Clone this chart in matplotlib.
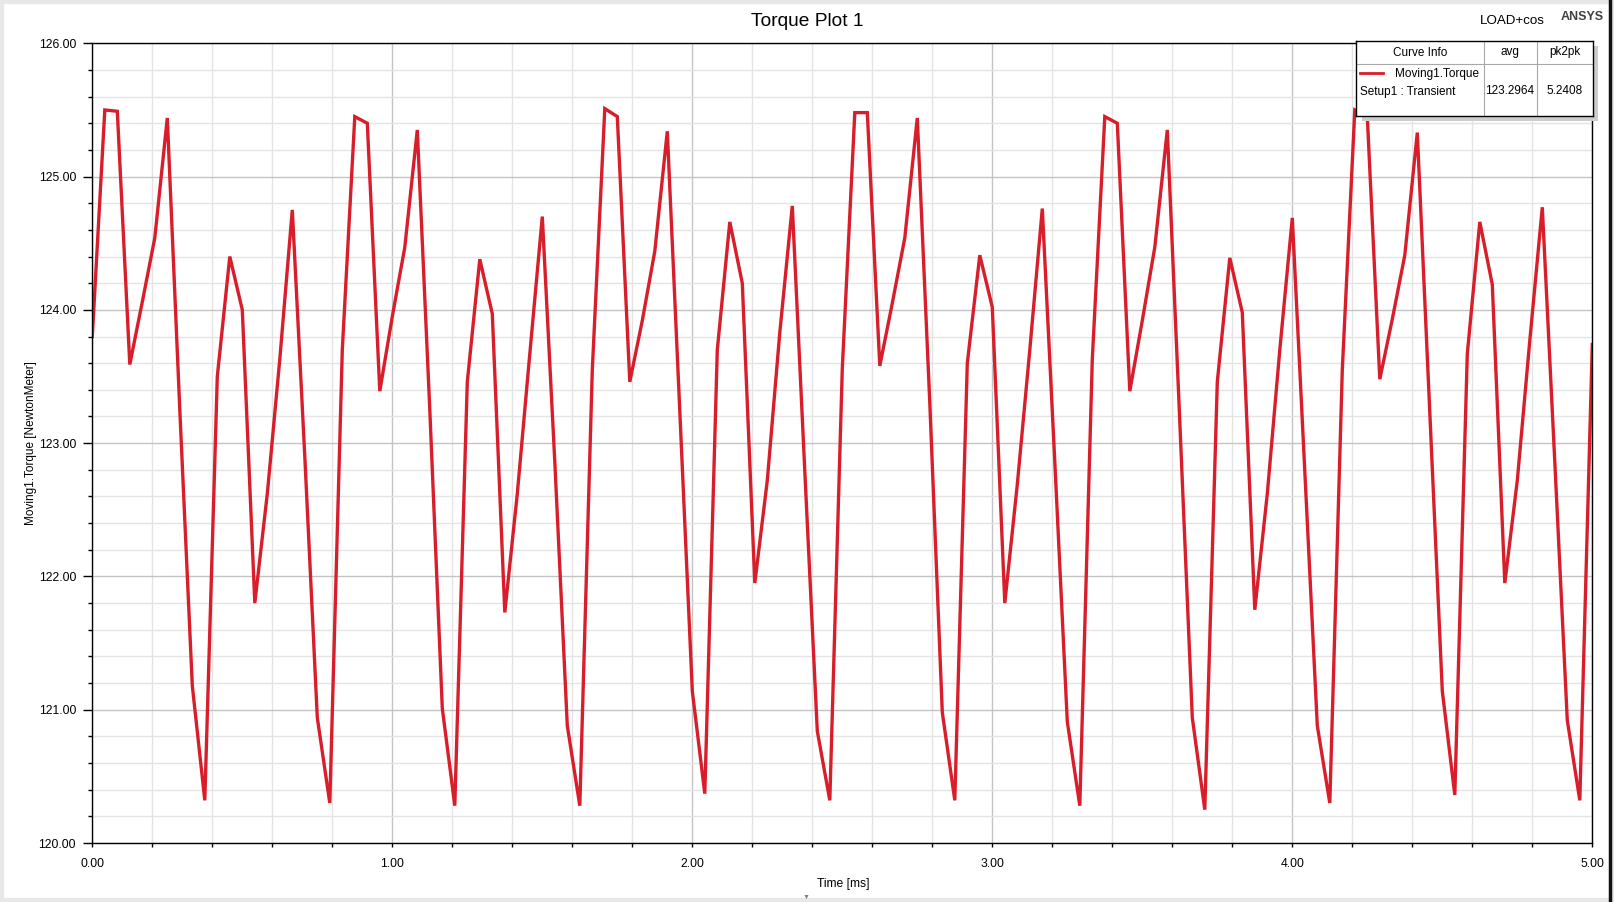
import matplotlib
matplotlib.use("Agg")
import matplotlib.pyplot as plt
import numpy as np
from matplotlib.patches import Rectangle
from matplotlib.lines import Line2D

plt.rcParams['font.family'] = ['Liberation Sans', 'DejaVu Sans']

# Moving1.Torque [NewtonMeter], one value per time step (5 ms / 120 steps)
torque = [
    123.80, 125.50, 125.49, 123.59, 124.06, 124.54, 125.44, 123.25, 121.18, 120.32,
    123.50, 124.40, 124.00, 121.80, 122.62, 123.63, 124.75, 122.90, 120.94, 120.30,
    123.70, 125.45, 125.40, 123.39, 123.95, 124.47, 125.35, 123.25, 121.01, 120.28,
    123.46, 124.38, 123.97, 121.73, 122.62, 123.67, 124.70, 122.86, 120.88, 120.28,
    123.55, 125.51, 125.45, 123.46, 123.92, 124.44, 125.34, 123.24, 121.14, 120.37,
    123.70, 124.66, 124.20, 121.95, 122.72, 123.83, 124.78, 122.79, 120.84, 120.32,
    123.56, 125.48, 125.48, 123.58, 124.05, 124.54, 125.44, 123.30, 120.98, 120.32,
    123.60, 124.41, 124.02, 121.80, 122.69, 123.70, 124.76, 122.86, 120.91, 120.28,
    123.63, 125.45, 125.40, 123.39, 123.92, 124.47, 125.35, 123.16, 120.94, 120.25,
    123.46, 124.39, 123.98, 121.75, 122.62, 123.70, 124.69, 122.79, 120.88, 120.30,
    123.55, 125.50, 125.45, 123.48, 123.93, 124.41, 125.33, 123.23, 121.14, 120.36,
    123.67, 124.66, 124.19, 121.95, 122.72, 123.77, 124.77, 122.86, 120.92, 120.32,
    123.74,
]
step_ms = 5.0 / 120
time_ms = np.arange(len(torque)) * step_ms

curve_name = "Moving1.Torque"
setup_name = "Setup1 : Transient"
avg_text = "123.2964"
pk2pk_text = "5.2408"

W, H = 1614, 902
red = '#d81e2a'


def fx(x):
    return x / W


def fy(y):
    return 1 - y / H


fig = plt.figure(figsize=(W / 100, H / 100), dpi=100)

ax = fig.add_axes([fx(92.3), fy(843), fx(1592.3) - fx(92.3), fy(43.3) - fy(843)])
ax.plot(time_ms, torque, color=red, lw=2.4, solid_joinstyle='miter')
ax.set_xlim(0, 5)
ax.set_ylim(120, 126)
ax.set_xticks(np.arange(0, 5.01, 1.0))
ax.set_xticks(np.arange(0, 5.01, 0.2), minor=True)
ax.set_yticks(np.arange(120, 126.01, 1.0))
ax.set_yticks(np.arange(120, 126.01, 0.2), minor=True)
ax.xaxis.set_major_formatter('{x:.2f}')
ax.yaxis.set_major_formatter('{x:.2f}')
ax.grid(which='major', color='#c4c4c4', lw=1)
ax.grid(which='minor', color='#e4e4e4', lw=1)
ax.set_axisbelow(True)
ax.tick_params(axis='y', which='major', length=6.7, width=1, pad=5, labelsize=8.7)
ax.tick_params(axis='y', which='minor', length=3.1, width=1)
ax.tick_params(axis='x', which='both', length=3.1, width=1, pad=7.5, labelsize=8.7)
for s in ax.spines.values():
    s.set_color('black')
    s.set_linewidth(1)

fig.text(0.5, fy(21), 'Torque Plot 1', ha='center', va='center', fontsize=13.8)
fig.text(fx(1512), fy(20.5), 'LOAD+cos', ha='center', va='center', fontsize=9.6)
fig.text(fx(1582), fy(17), 'ANSYS', ha='center', va='center', fontsize=9,
         fontweight='bold', color='#404040')
fig.text(fx(31), fy(443), 'Moving1.Torque [NewtonMeter]', rotation=90,
         ha='center', va='center', fontsize=8.5)
fig.text(fx(843), fy(884), 'Time [ms]', ha='center', va='center', fontsize=8.7)

# legend table with shadow
fig.add_artist(Rectangle((fx(1362), fy(121)), fx(1598) - fx(1362), fy(46) - fy(121),
                         transform=fig.transFigure, facecolor='#cdcdcd',
                         edgecolor='none', zorder=4))
leg = fig.add_axes([fx(1356), fy(116), fx(1592.5) - fx(1356), fy(41) - fy(116)],
                   zorder=5)
leg.set_xlim(1356, 1592.5)
leg.set_ylim(116, 41)
leg.set_xticks([])
leg.set_yticks([])
for s in leg.spines.values():
    s.set_color('black')
    s.set_linewidth(1)
for xc in (1483.5, 1536.5):
    leg.plot([xc, xc], [41, 116], color='#a8a8a8', lw=0.8)
leg.plot([1356, 1592.5], [63.5, 63.5], color='#a8a8a8', lw=0.8)
leg.plot([1360, 1383], [72.5, 72.5], color=red, lw=2)
fs = 8.5
leg.text(1420, 52.5, 'Curve Info', ha='center', va='center', fontsize=fs)
leg.text(1510, 52.5, 'avg', ha='center', va='center', fontsize=fs)
leg.text(1564.5, 52.5, 'pk2pk', ha='center', va='center', fontsize=fs)
leg.text(1395, 74.5, curve_name, ha='left', va='center', fontsize=fs)
leg.text(1360, 91.5, setup_name, ha='left', va='center', fontsize=fs)
leg.text(1510, 91.5, avg_text, ha='center', va='center', fontsize=fs)
leg.text(1564.5, 91.5, pk2pk_text, ha='center', va='center', fontsize=fs)

# window frame
fig.add_artist(Rectangle((0, 0), 1, 1, transform=fig.transFigure, fill=False,
                         edgecolor='#e8e8e8', lw=6))
fig.add_artist(Line2D([fx(1610), fx(1610)], [0, 1], transform=fig.transFigure,
                      color='#111111', lw=2.5))
fig.text(fx(806), fy(897), '\u25bc', ha='center', va='center', fontsize=5,
         color='#808080')

fig.savefig('out.png', dpi=100)
